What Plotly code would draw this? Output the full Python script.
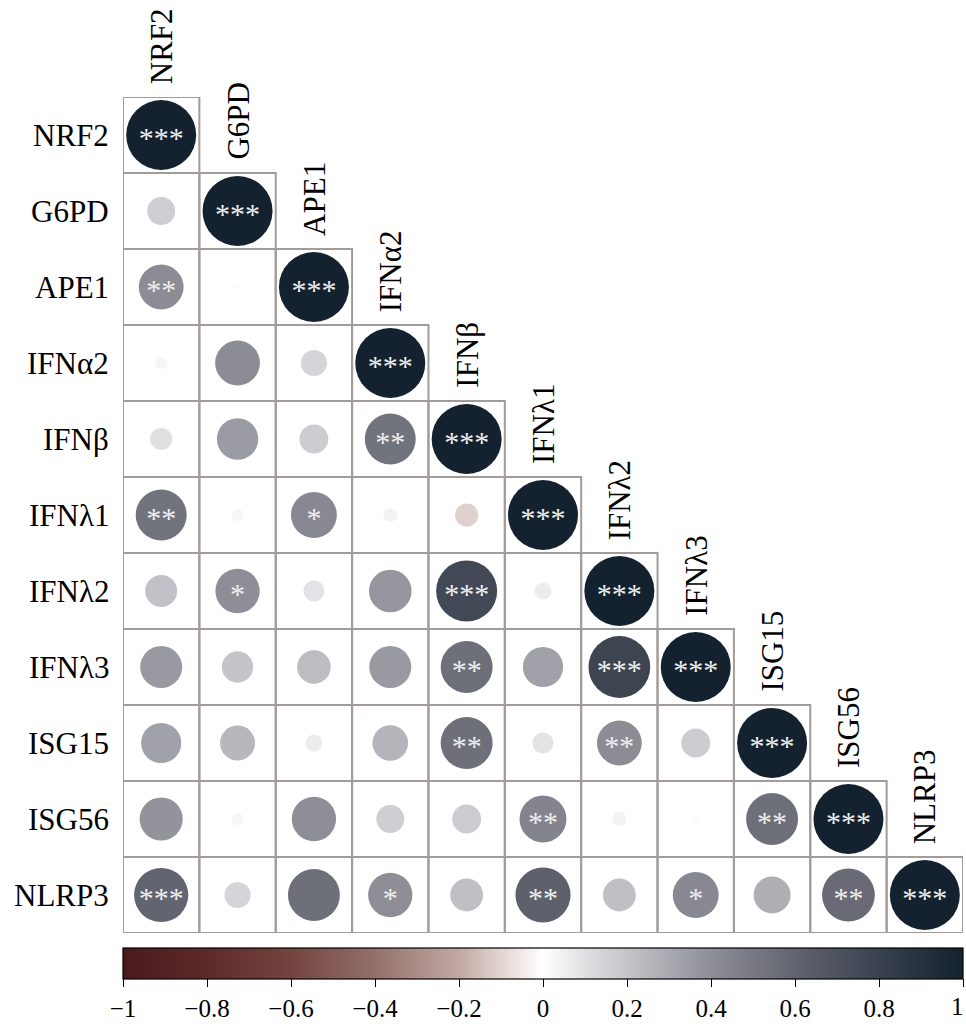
import plotly.graph_objects as go

genes = ["NRF2", "G6PD", "APE1", "IFNα2", "IFNβ", "IFNλ1", "IFNλ2", "IFNλ3", "ISG15", "ISG56", "NLRP3"]

# lower-triangle correlation values (row i, columns 0..i)
corr_rows = [
    [1.00],
    [0.16, 1.00],
    [0.41, 0.01, 1.00],
    [0.03, 0.41, 0.14, 1.00],
    [0.10, 0.35, 0.17, 0.53, 1.00],
    [0.53, 0.03, 0.43, 0.04, -0.11, 1.00],
    [0.21, 0.40, 0.09, 0.37, 0.76, 0.06, 1.00],
    [0.36, 0.20, 0.23, 0.36, 0.55, 0.33, 0.78, 1.00],
    [0.33, 0.25, 0.06, 0.26, 0.55, 0.09, 0.41, 0.17, 1.00],
    [0.38, 0.03, 0.40, 0.16, 0.17, 0.45, 0.04, 0.01, 0.55, 1.00],
    [0.60, 0.14, 0.55, 0.40, 0.22, 0.62, 0.22, 0.43, 0.28, 0.57, 1.00],
]

sig_rows = [
    ["***"],
    ["", "***"],
    ["**", "", "***"],
    ["", "", "", "***"],
    ["", "", "", "**", "***"],
    ["**", "", "*", "", "", "***"],
    ["", "*", "", "", "***", "", "***"],
    ["", "", "", "", "**", "", "***", "***"],
    ["", "", "", "", "**", "", "**", "", "***"],
    ["", "", "", "", "", "**", "", "", "**", "***"],
    ["***", "", "", "*", "", "**", "", "*", "", "**", "***"],
]

cbar_ticks = [-1, -0.8, -0.6, -0.4, -0.2, 0, 0.2, 0.4, 0.6, 0.8, 1]
cbar_labels = ["−1", "−0.8", "−0.6", "−0.4", "−0.2", "0", "0.2", "0.4", "0.6", "0.8", "1"]

colorscale = [
    [0.00, "#4a1a1d"],
    [0.10, "#5d2a2a"],
    [0.20, "#744440"],
    [0.30, "#93706b"],
    [0.40, "#c2a9a4"],
    [0.45, "#e2d5d2"],
    [0.50, "#ffffff"],
    [0.55, "#e0e0e3"],
    [0.60, "#c4c4c9"],
    [0.70, "#8e8e97"],
    [0.80, "#62646f"],
    [0.90, "#3a414e"],
    [1.00, "#13222e"],
]

FONT = "Liberation Serif, Times New Roman, serif"
n = len(genes)

xs, ys, vals, sizes, txts = [], [], [], [], []
for i, row in enumerate(corr_rows):
    for j, v in enumerate(row):
        xs.append(j)
        ys.append(i)
        vals.append(v)
        sizes.append(70 * abs(v) ** 0.5)
        txts.append(sig_rows[i][j])

fig = go.Figure()

shapes = []
for i in range(n):
    for j in range(i + 1):
        shapes.append(dict(type="rect", xref="x", yref="y",
                           x0=j - 0.5, x1=j + 0.5, y0=i - 0.5, y1=i + 0.5,
                           line=dict(color="#a29b99", width=2), layer="below"))

# last colorbar label is drawn as an annotation so it stays inside the page
shown_labels = cbar_labels[:-1] + [""]

fig.add_trace(go.Scatter(
    x=xs, y=ys, mode="markers",
    marker=dict(size=sizes, color=vals, colorscale=colorscale, cmin=-1, cmax=1,
                opacity=1, line=dict(width=0),
                showscale=True,
                colorbar=dict(orientation="h", x=0.5, xanchor="center",
                              y=-0.018, yanchor="top", len=1, lenmode="fraction",
                              thickness=31, xpad=0, ypad=0,
                              outlinewidth=1.2, outlinecolor="black",
                              ticks="outside", ticklen=8, tickcolor="black",
                              tickvals=cbar_ticks, ticktext=shown_labels,
                              ticklabeloverflow="allow",
                              tickfont=dict(family=FONT, size=25, color="black"))),
    hoverinfo="skip", showlegend=False))

fig.add_trace(go.Scatter(
    x=xs, y=[y + 0.07 for y in ys], mode="text", text=txts,
    textfont=dict(family=FONT, size=30, color="#eeeeee"),
    textposition="middle center", hoverinfo="skip", showlegend=False))

annotations = []
for i, g in enumerate(genes):
    annotations.append(dict(x=0, xref="paper", y=i, yref="y", text=g,
                            xanchor="right", yanchor="middle", xshift=-12,
                            showarrow=False, font=dict(family=FONT, size=31, color="black")))
    annotations.append(dict(x=i, xref="x", y=i - 0.5, yref="y", text=g,
                            textangle=-90, xanchor="center", yanchor="bottom", yshift=11,
                            showarrow=False, font=dict(family=FONT, size=31, color="black")))

annotations.append(dict(x=1, xref="paper", y=-0.018, yref="paper", text=cbar_labels[-1],
                        xanchor="right", yanchor="middle", xshift=3, yshift=-58,
                        showarrow=False, font=dict(family=FONT, size=25, color="black")))

fig.update_layout(
    width=966, height=1026,
    margin=dict(l=123, r=3, t=97, b=91),
    paper_bgcolor="white", plot_bgcolor="white",
    shapes=shapes, annotations=annotations,
    xaxis=dict(range=[-0.5, n - 0.5], visible=False, fixedrange=True),
    yaxis=dict(range=[n - 0.5, -0.5], visible=False, fixedrange=True),
)

fig.write_html("out.html", config={"displayModeBar": False},
               post_script="document.body.style.margin='0';document.body.style.overflow='hidden';")
